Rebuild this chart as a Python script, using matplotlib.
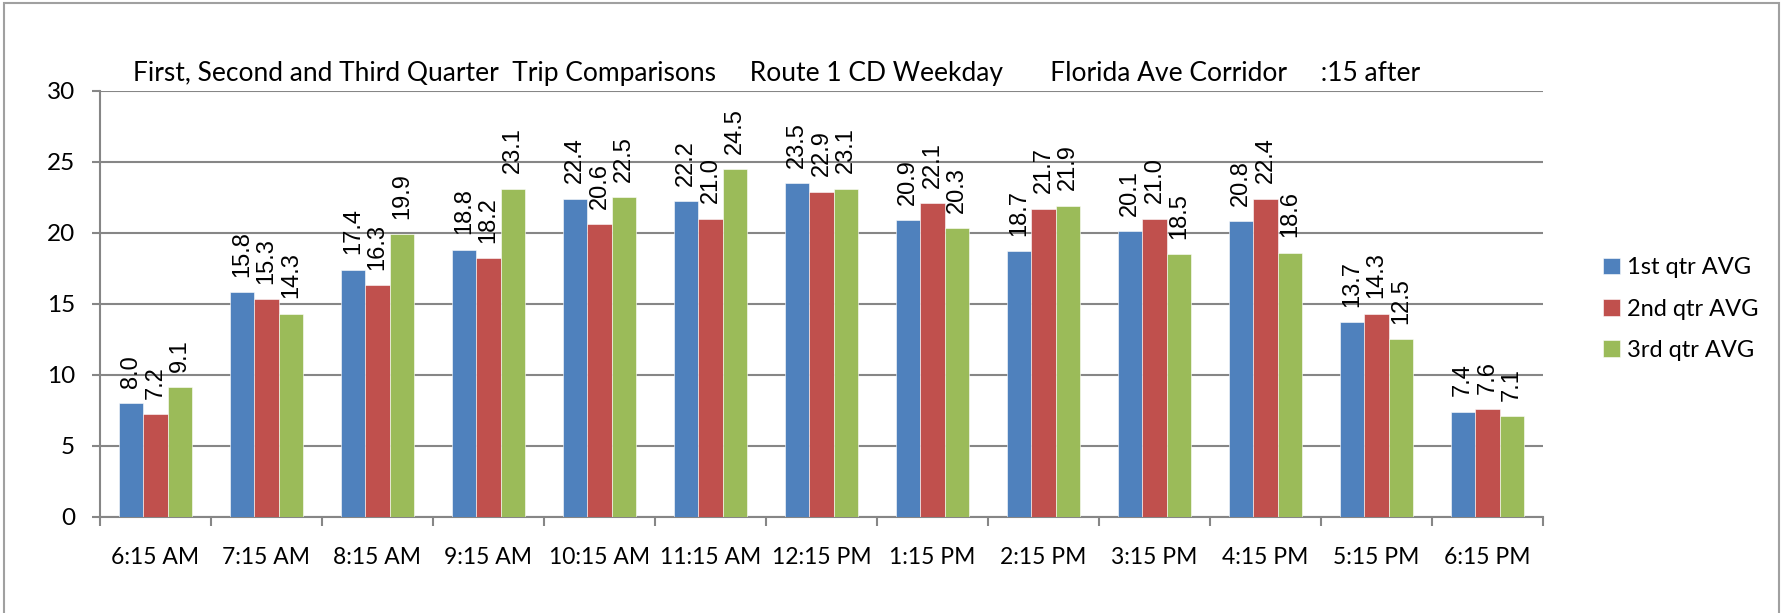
import numpy as np
import matplotlib
matplotlib.use("Agg")
import matplotlib.pyplot as plt
from matplotlib.patches import Rectangle

# data
times = ["6:15 AM", "7:15 AM", "8:15 AM", "9:15 AM", "10:15 AM", "11:15 AM",
         "12:15 PM", "1:15 PM", "2:15 PM", "3:15 PM", "4:15 PM", "5:15 PM", "6:15 PM"]
q1 = [8.0, 15.8, 17.4, 18.8, 22.4, 22.2, 23.5, 20.9, 18.7, 20.1, 20.8, 13.7, 7.4]
q2 = [7.2, 15.3, 16.3, 18.2, 20.6, 21.0, 22.9, 22.1, 21.7, 21.0, 22.4, 14.3, 7.6]
q3 = [9.1, 14.3, 19.9, 23.1, 22.5, 24.5, 23.1, 20.3, 21.9, 18.5, 18.6, 12.5, 7.1]
series_names = ["1st qtr AVG", "2nd qtr AVG", "3rd qtr AVG"]
colors = ["#4F81BD", "#C0504D", "#9BBB59"]

ui_font = "Lato"
lbl_font = "Liberation Sans"
grid_col = "#868686"

W, H = 1783, 613
fig = plt.figure(figsize=(W / 100, H / 100), dpi=100)
ax = fig.add_axes([100 / W, 1 - 516.7 / H, 1443 / W, 426 / H])

x = np.arange(len(times))
w = 0.22
for i, (vals, c, name) in enumerate(zip([q1, q2, q3], colors, series_names)):
    pos = x + (i - 1) * w
    ax.bar(pos, vals, width=w, color=c, label=name, zorder=3,
           edgecolor="white", linewidth=0.4)
    for px, v in zip(pos, vals):
        ax.annotate(f"{v:.1f}", (px, v), xytext=(0, 11), textcoords="offset points",
                    rotation=90, ha="center", va="bottom", fontsize=17,
                    family=lbl_font, zorder=4)

ax.set_xlim(-0.5, len(times) - 0.5)
ax.set_ylim(0, 30)
ax.set_yticks(np.arange(0, 31, 5))
ax.yaxis.grid(True, color=grid_col, linewidth=1.5, zorder=0)
ax.set_axisbelow(True)

ax.set_xticks(x)
ax.set_xticklabels(times, family=ui_font, fontsize=16.5)
ax.set_xticks(np.arange(-0.5, len(times)), minor=True)
ax.tick_params(axis="x", which="major", length=0, pad=22)
ax.tick_params(axis="x", which="minor", length=6.5, width=1.5, color=grid_col, direction="out")
ax.tick_params(axis="y", length=6, width=1.5, color=grid_col, labelsize=17.5, pad=12)
for t in ax.get_yticklabels():
    t.set_family(ui_font)

for s in ["top", "right"]:
    ax.spines[s].set_visible(False)
for s in ["left", "bottom"]:
    ax.spines[s].set_color(grid_col)
    ax.spines[s].set_linewidth(1.5)

fig.text(133 / W, 1 - 81 / H,
         "First, Second and Third Quarter  Trip Comparisons     Route 1 CD Weekday"
         "       Florida Ave Corridor     :15 after",
         ha="left", va="baseline", fontsize=19, family=ui_font)

leg = ax.legend(loc="center left", bbox_to_anchor=(1603 / W, 1 - 309 / H),
                bbox_transform=fig.transFigure, frameon=False,
                prop={"family": ui_font, "size": 17}, handlelength=0.7,
                handleheight=0.7, labelspacing=0.85, handletextpad=0.3,
                borderpad=0, borderaxespad=0)

fig.patches.append(Rectangle((4 / W, -0.05), 1775 / W, 1.05 - 3 / H,
                             transform=fig.transFigure, fill=False,
                             edgecolor="#A0A0A0", linewidth=1.5))

fig.savefig("out.png", dpi=100)
